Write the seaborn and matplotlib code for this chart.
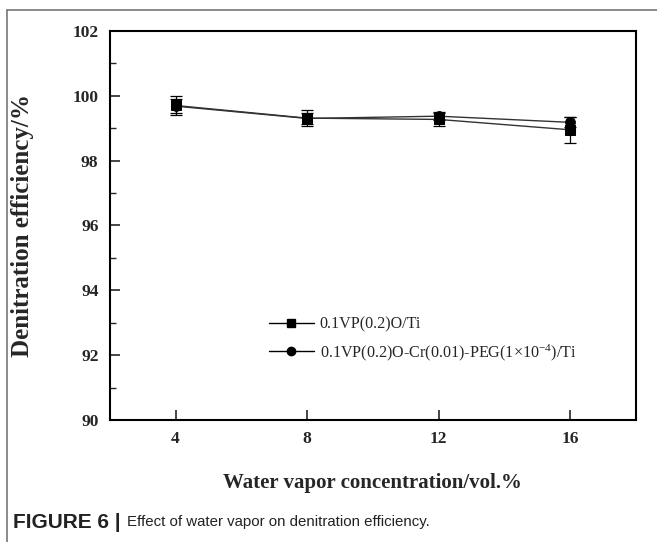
import matplotlib
matplotlib.use("Agg")
import matplotlib.pyplot as plt
import seaborn as sns
import pandas as pd
import numpy as np
from matplotlib.lines import Line2D
from matplotlib.ticker import MultipleLocator

# ---- data ----
water_vapor = [4, 8, 12, 16]
eff_vp = [99.70, 99.31, 99.27, 98.95]
err_vp = [0.29, 0.25, 0.20, 0.40]
eff_cr = [99.68, 99.30, 99.37, 99.18]
err_cr = [0.22, 0.18, 0.12, 0.15]
labels = ["0.1VP(0.2)O/Ti", "0.1VP(0.2)O-Cr(0.01)-PEG(1×10$^{-4}$)/Ti"]
markers = ["s", "o"]

sns.set_style("ticks")
plt.rcParams["font.family"] = ["Liberation Serif", "DejaVu Serif"]
plt.rcParams["mathtext.fontset"] = "custom"
plt.rcParams["mathtext.rm"] = "Liberation Serif"
plt.rcParams["mathtext.it"] = "Liberation Serif:italic"

fig = plt.figure(figsize=(6.57, 5.42), dpi=100)
ax = fig.add_axes([0.167, 0.225, 0.801, 0.718])

df = pd.DataFrame({
    "x": water_vapor * 2,
    "y": eff_vp + eff_cr,
    "series": [labels[0]] * 4 + [labels[1]] * 4,
})

for lab, mk, yv, ev in zip(labels, markers, [eff_vp, eff_cr], [err_vp, err_cr]):
    sub = df[df["series"] == lab]
    sns.lineplot(data=sub, x="x", y="y", ax=ax, color="#333333", linewidth=1.0,
                 marker=mk, markersize=7, markeredgecolor="black",
                 markerfacecolor="black", label=None, legend=False)
    ax.errorbar(water_vapor, yv, yerr=ev, fmt="none", ecolor="black",
                elinewidth=0.9, capsize=4, capthick=0.9)

ax.set_xlim(2, 18)
ax.set_ylim(90, 102)
ax.set_xticks(water_vapor)
ax.set_yticks(np.arange(90, 103, 2))
ax.yaxis.set_minor_locator(MultipleLocator(1))
ax.tick_params(axis="both", which="major", direction="in", length=7, width=1.2,
               labelsize=12.5, pad=8)
ax.tick_params(axis="y", which="minor", direction="in", length=4, width=1.0)
ax.tick_params(axis="x", which="major", pad=8)
for t in ax.get_xticklabels() + ax.get_yticklabels():
    t.set_fontweight("bold")
for s in ax.spines.values():
    s.set_linewidth(1.5)
    s.set_color("black")

ax.set_xlabel("Water vapor concentration/vol.%", fontsize=15, fontweight="bold")
ax.set_ylabel("Denitration efficiency/%", fontsize=18, fontweight="bold")
ax.xaxis.set_label_coords(0.5, -0.162)
ax.xaxis.label.set_va("center")
ax.yaxis.set_label_coords(-0.165, 0.5)
ax.yaxis.label.set_va("center")

handles = [Line2D([], [], color="black", linewidth=1.0, marker=m, markersize=6,
                  markerfacecolor="black") for m in markers]
ax.legend(handles, labels, loc="lower left", bbox_to_anchor=(0.275, 0.11),
          frameon=False, fontsize=11.6, handlelength=2.8, handletextpad=0.35,
          labelspacing=0.6)

# outer frame
fig.add_artist(Line2D([7/657, 1.0], [1-10/542, 1-10/542], color="#777777", linewidth=1.2))
fig.add_artist(Line2D([7/657, 7/657], [0, 1-10/542], color="#777777", linewidth=1.2))

# caption
t1 = fig.text(13/657, 1-522/542, "FIGURE 6 |", fontsize=15, fontweight="bold",
              family=["Liberation Sans", "DejaVu Sans"], va="center", ha="left", color="#222222")
fig.canvas.draw()
bb = t1.get_window_extent(renderer=fig.canvas.get_renderer())
fig.text((bb.x1 + 6) / 657, 1-522/542, "Effect of water vapor on denitration efficiency.",
         fontsize=10.8, family=["Liberation Sans", "DejaVu Sans"], va="center", ha="left",
         color="#222222")

fig.savefig("out.png", dpi=100)
